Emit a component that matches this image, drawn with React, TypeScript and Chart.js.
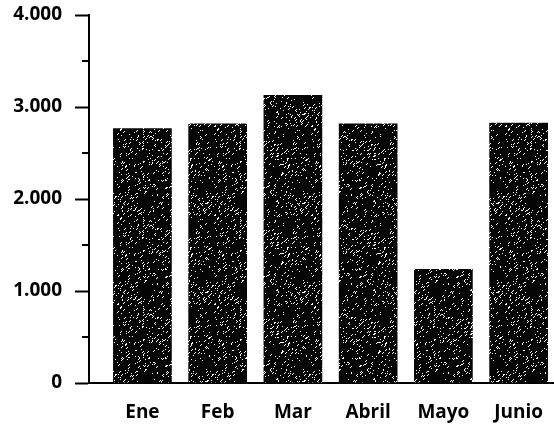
import React, { useEffect, useRef } from "react";
import { Chart, registerables } from "chart.js";

Chart.register(...registerables);

const months = ["Ene", "Feb", "Mar", "Abril", "Mayo", "Junio"];
const values = [2770, 2820, 3130, 2820, 1240, 2830];
const majorTicks = [0, 1000, 2000, 3000, 4000];
const minorTicks = [500, 1500, 2500, 3500];

const fmt = (v: number) => (v >= 1000 ? `${Math.floor(v / 1000)}.${String(v % 1000).padStart(3, "0")}` : String(v));

function makePattern(): CanvasPattern | string {
  const c = document.createElement("canvas");
  c.width = 97;
  c.height = 89;
  const g = c.getContext("2d");
  if (!g) return "#111";
  g.fillStyle = "#050505";
  g.fillRect(0, 0, c.width, c.height);
  let s = 424242;
  const rnd = () => {
    s = (s * 1103515245 + 12345) & 0x7fffffff;
    return s / 0x7fffffff;
  };
  g.fillStyle = "#ffffff";
  for (let i = 0; i < 520; i++) {
    const x = Math.floor(rnd() * c.width);
    const y = Math.floor(rnd() * c.height);
    g.fillRect(x, y, 1, 1);
    if (rnd() < 0.35) g.fillRect(x + 1, y - 1, 1, 1);
  }
  const p = g.createPattern(c, "repeat");
  return p || "#111";
}

const minorTickPlugin = {
  id: "minorTicks",
  afterDraw(chart: any) {
    const y = chart.scales.y;
    const ctx = chart.ctx;
    ctx.save();
    ctx.strokeStyle = "#000";
    ctx.lineWidth = 2;
    for (const v of minorTicks) {
      const py = Math.round(y.getPixelForValue(v));
      ctx.beginPath();
      ctx.moveTo(y.right - 7, py);
      ctx.lineTo(y.right, py);
      ctx.stroke();
    }
    ctx.restore();
  },
};

const zeroPad = (scale: any) => {
  scale.paddingLeft = 0;
  scale.paddingRight = 0;
  scale.paddingTop = 0;
  scale.paddingBottom = 0;
};

export default function App() {
  const ref = useRef<HTMLCanvasElement | null>(null);
  useEffect(() => {
    if (!ref.current) return;
    const chart = new Chart(ref.current, {
      type: "bar",
      data: {
        datasets: [
          {
            data: values.map((v, i) => ({ x: i, y: v })),
            backgroundColor: makePattern() as any,
            borderWidth: 0,
            barPercentage: 0.78,
            categoryPercentage: 1,
          },
        ],
      },
      options: {
        animation: false,
        responsive: true,
        maintainAspectRatio: false,
        layout: { padding: { top: 15, left: 0, right: 0, bottom: 0 } },
        plugins: { legend: { display: false }, tooltip: { enabled: false } },
        scales: {
          x: {
            type: "linear",
            offset: false,
            min: -0.71,
            max: 5.47,
            afterBuildTicks: (scale: any) => {
              scale.ticks = months.map((_, i) => ({ value: i }));
            },
            afterFit: (scale: any) => {
              scale.height = 42;
              zeroPad(scale);
            },
            grid: { display: false },
            border: { display: true, color: "#000", width: 2 },
            ticks: {
              callback: (v: any) => months[Number(v)] ?? "",
              color: "#000",
              padding: 10,
              maxRotation: 0,
              autoSkip: false,
              font: { family: "'Open Sans'", size: 19, weight: "700" },
            },
          },
          y: {
            min: 0,
            max: 4000,
            afterBuildTicks: (scale: any) => {
              scale.ticks = majorTicks.map((v) => ({ value: v }));
            },
            afterFit: (scale: any) => {
              scale.width = 89;
              zeroPad(scale);
            },
            grid: {
              display: true,
              drawOnChartArea: false,
              drawTicks: true,
              tickLength: 14,
              tickWidth: 2,
              tickColor: "#000",
            },
            border: { display: true, color: "#000", width: 2 },
            ticks: {
              callback: (v: any) => fmt(Number(v)),
              color: "#000",
              padding: 13,
              font: { family: "'Open Sans'", size: 19, weight: "700" },
            },
          },
        },
      },
      plugins: [minorTickPlugin],
    });
    return () => chart.destroy();
  }, []);
  return (
    <div style={{ position: "absolute", left: 0, top: 0, width: 554, height: 425, background: "#fff" }}>
      <canvas ref={ref} />
    </div>
  );
}
